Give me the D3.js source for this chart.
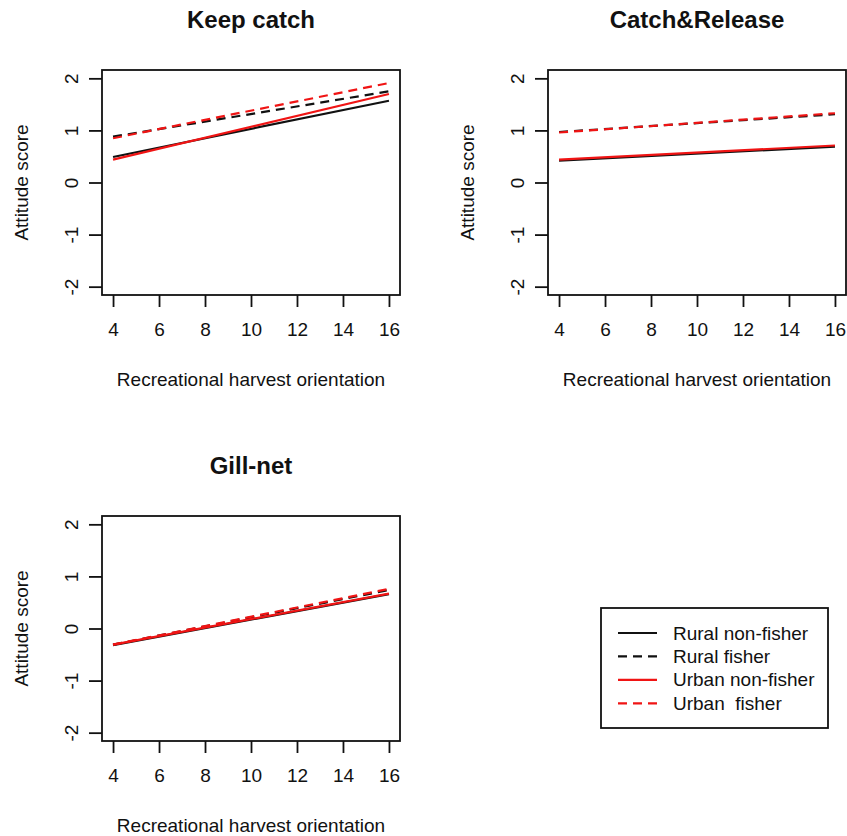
<!DOCTYPE html>
<html>
<head>
<meta charset="utf-8">
<script src="https://cdn.jsdelivr.net/npm/d3@7"></script>
<style>
  html, body { margin: 0; padding: 0; background: #fff; }
  svg { display: block; font-family: "Liberation Sans", Arial, Helvetica, sans-serif; }
</style>
</head>
<body>
<svg id="chart" width="847" height="836"></svg>
<script>
// ---------------- data ----------------
const panelTitles = ["Keep catch", "Catch&Release", "Gill-net"];
const seriesNames = ["Rural non-fisher", "Rural fisher", "Urban non-fisher", "Urban  fisher"];
const seriesColors = ["#111111", "#111111", "#f01414", "#f01414"];
const seriesDashed = [false, true, false, true];
const xEndpoints = [4, 16];
const xTicks = [4, 6, 8, 10, 12, 14, 16];
const yTicks = [-2, -1, 0, 1, 2];
const xLabel = "Recreational harvest orientation";
const yLabel = "Attitude score";

// values at x = 4 and x = 16 for each series, per panel
const keepCatch = {
  "Rural non-fisher": [0.49, 1.57],
  "Rural fisher":     [0.88, 1.75],
  "Urban non-fisher": [0.44, 1.70],
  "Urban  fisher":    [0.85, 1.91]
};
const catchRelease = {
  "Rural non-fisher": [0.42, 0.69],
  "Rural fisher":     [0.97, 1.31],
  "Urban non-fisher": [0.44, 0.71],
  "Urban  fisher":    [0.96, 1.33]
};
const gillNet = {
  "Rural non-fisher": [-0.32, 0.66],
  "Rural fisher":     [-0.31, 0.74],
  "Urban non-fisher": [-0.31, 0.67],
  "Urban  fisher":    [-0.31, 0.76]
};
const panelData = [keepCatch, catchRelease, gillNet];

// ---------------- layout ----------------
const panelBoxes = [
  { left: 102, right: 400, top: 70, bottom: 295 },
  { left: 548, right: 846, top: 70, bottom: 295 },
  { left: 102, right: 400, top: 516, bottom: 741 }
];
const svg = d3.select("#chart");
const FS = 19;
const dash = "9,6";
const fmt = d => String(d);

panelBoxes.forEach((b, i) => {
  const x = d3.scaleLinear().domain([3.52, 16.48]).range([b.left, b.right]);
  const y = d3.scaleLinear().domain([-2.16, 2.16]).range([b.bottom, b.top]);
  const g = svg.append("g");

  // lines
  const line = d3.line().x(d => x(d[0])).y(d => y(d[1]));
  seriesNames.forEach((s, k) => {
    const vals = panelData[i][s];
    const pts = xEndpoints.map((xv, j) => [xv, vals[j]]);
    g.append("path")
      .attr("d", line(pts))
      .attr("fill", "none")
      .attr("stroke", seriesColors[k])
      .attr("stroke-width", 2.2)
      .attr("stroke-dasharray", seriesDashed[k] ? dash : null);
  });

  // box
  g.append("rect")
    .attr("x", b.left).attr("y", b.top)
    .attr("width", b.right - b.left).attr("height", b.bottom - b.top)
    .attr("fill", "none").attr("stroke", "#111").attr("stroke-width", 1.8);

  // x axis
  const xa = g.append("g").attr("transform", `translate(0,${b.bottom})`)
    .call(d3.axisBottom(x).tickValues(xTicks).tickSize(12).tickPadding(16).tickFormat(fmt));
  xa.attr("font-size", FS).attr("font-family", "Liberation Sans, Arial, sans-serif");
  xa.select(".domain").remove();
  xa.selectAll(".tick line").attr("stroke", "#111").attr("stroke-width", 1.8);
  xa.selectAll(".tick text").attr("fill", "#111");

  // y axis
  const ya = g.append("g").attr("transform", `translate(${b.left},0)`)
    .call(d3.axisLeft(y).tickValues(yTicks).tickSize(13).tickFormat(fmt));
  ya.attr("font-size", FS).attr("font-family", "Liberation Sans, Arial, sans-serif");
  ya.select(".domain").remove();
  ya.selectAll(".tick line").attr("stroke", "#111").attr("stroke-width", 1.8);
  ya.selectAll(".tick text")
    .attr("fill", "#111")
    .attr("x", null).attr("dy", null)
    .attr("text-anchor", "middle")
    .attr("dominant-baseline", "central")
    .attr("transform", "translate(-31,0) rotate(-90)");

  // title
  g.append("text")
    .attr("x", (b.left + b.right) / 2).attr("y", b.top - 42)
    .attr("text-anchor", "middle").attr("font-size", 24).attr("font-weight", "bold")
    .attr("fill", "#111").text(panelTitles[i]);

  // x label
  g.append("text")
    .attr("x", (b.left + b.right) / 2).attr("y", b.bottom + 91)
    .attr("text-anchor", "middle").attr("font-size", FS)
    .attr("fill", "#111").text(xLabel);

  // y label
  g.append("text")
    .attr("transform", `translate(${b.left - 81},${(b.top + b.bottom) / 2}) rotate(-90)`)
    .attr("text-anchor", "middle").attr("dominant-baseline", "central")
    .attr("font-size", FS).attr("fill", "#111").text(yLabel);
});

// ---------------- legend ----------------
const lg = svg.append("g");
lg.append("rect").attr("x", 601).attr("y", 608).attr("width", 227).attr("height", 120)
  .attr("fill", "#fff").attr("stroke", "#111").attr("stroke-width", 1.8);
const legY = d3.scalePoint().domain(seriesNames).range([633, 703.3]);
seriesNames.forEach((s, k) => {
  lg.append("line")
    .attr("x1", 618).attr("x2", 657)
    .attr("y1", legY(s)).attr("y2", legY(s))
    .attr("stroke", seriesColors[k]).attr("stroke-width", 2.2)
    .attr("stroke-dasharray", seriesDashed[k] ? dash : null);
  lg.append("text")
    .attr("x", 673).attr("y", legY(s))
    .attr("dominant-baseline", "central")
    .attr("font-size", FS).attr("fill", "#111")
    .style("white-space", "pre")
    .text(s);
});
</script>
</body>
</html>
